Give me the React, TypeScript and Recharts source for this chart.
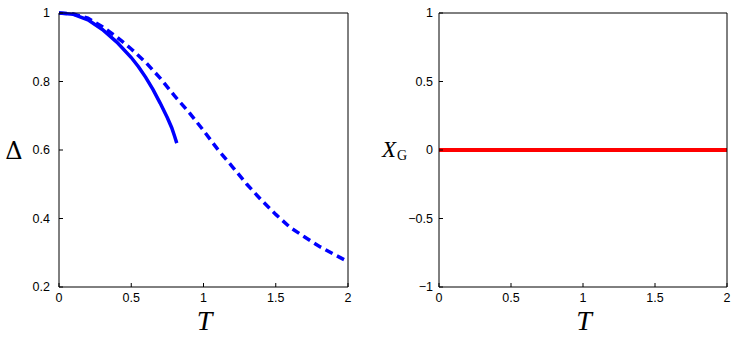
import { LineChart, Line, XAxis, YAxis } from "recharts"

// gap curves
const solidT = [0, 0.1, 0.2, 0.3, 0.4, 0.5, 0.55, 0.6, 0.65, 0.7, 0.75, 0.78, 0.8, 0.815]
const solidGap = [1, 0.996, 0.98, 0.952, 0.915, 0.87, 0.843, 0.812, 0.777, 0.737, 0.694, 0.665, 0.64, 0.62]

const dashedT = [0, 0.1, 0.2, 0.3, 0.4, 0.5, 0.6, 0.7, 0.8, 0.9, 1, 1.1, 1.2, 1.3, 1.4, 1.5, 1.6, 1.7, 1.8, 1.9, 2]
const dashedGap = [
  1, 0.997, 0.985, 0.96, 0.93, 0.895, 0.856, 0.81, 0.758, 0.71, 0.657, 0.601, 0.551, 0.5, 0.454, 0.412, 0.374,
  0.346, 0.319, 0.296, 0.274,
]

// right panel: X_G stays at zero
const xgT = [0, 0.5, 1, 1.5, 2]
const xgValues = [0, 0, 0, 0, 0]

const tTicks = [0, 0.5, 1, 1.5, 2]
const gapTicks = [0.2, 0.4, 0.6, 0.8, 1]
const xgTicks = [-1, -0.5, 0, 0.5, 1]

const solidData = solidT.map((T, i) => ({ T, v: solidGap[i] }))
const dashedData = dashedT.map((T, i) => ({ T, v: dashedGap[i] }))
const xgData = xgT.map((T, i) => ({ T, v: xgValues[i] }))

const tickStyle = { fill: "#000", fontSize: 12.5, fontFamily: "Liberation Sans, Arial, sans-serif" }
const fmt = (v: number) => String(v).replace("-", "\u2212")

const TLabel = (props: any) => {
  const vb = props.viewBox
  return (
    <text
      x={vb.x + vb.width / 2 + 1}
      y={vb.y + 43}
      textAnchor="middle"
      fontSize={28}
      fontStyle="italic"
      fontFamily="Liberation Serif, serif"
      fill="#000"
    >
      T
    </text>
  )
}

const DeltaLabel = (props: any) => {
  const vb = props.viewBox
  return (
    <text x={14} y={vb.y + vb.height / 2 + 9} textAnchor="middle" fontSize={24} fontFamily="DejaVu Serif, serif" fill="#000">
      Δ
    </text>
  )
}

const XgLabel = (props: any) => {
  const vb = props.viewBox
  return (
    <text x={12} y={vb.y + vb.height / 2 + 7} fontSize={23} fontFamily="Liberation Serif, serif" fill="#000">
      <tspan fontStyle="italic">X</tspan>
      <tspan fontSize={14} dx={1} dy={3}>
        G
      </tspan>
    </text>
  )
}

export default function App() {
  return (
    <div style={{ position: "absolute", left: 0, top: 0, width: 736, height: 338, background: "#fff" }}>
      <div style={{ position: "absolute", left: 0, top: 0 }}>
        <LineChart width={368} height={338} margin={{ top: 12, right: 19, bottom: 0, left: 0 }}>
          <XAxis
            dataKey="T"
            type="number"
            domain={[0, 2]}
            ticks={tTicks}
            height={51}
            stroke="#000"
            tickSize={-4}
            tickMargin={10}
            tick={tickStyle}
            label={TLabel}
          />
          <XAxis
            xAxisId="top"
            orientation="top"
            dataKey="T"
            type="number"
            domain={[0, 2]}
            ticks={tTicks}
            height={1}
            stroke="#000"
            tickSize={-4}
            tick={false}
          />
          <YAxis
            type="number"
            domain={[0.2, 1]}
            ticks={gapTicks}
            width={59}
            stroke="#000"
            tickSize={-4}
            tickMargin={13}
            tick={tickStyle}
            tickFormatter={fmt}
            label={DeltaLabel}
          />
          <YAxis
            yAxisId="right"
            orientation="right"
            type="number"
            domain={[0.2, 1]}
            ticks={gapTicks}
            width={1}
            stroke="#000"
            tickSize={-4}
            tick={false}
          />
          <Line
            data={dashedData}
            dataKey="v"
            stroke="#0000ff"
            strokeWidth={3.5}
            strokeDasharray="8 5"
            dot={false}
            isAnimationActive={false}
          />
          <Line data={solidData} dataKey="v" stroke="#0000ff" strokeWidth={3.5} dot={false} isAnimationActive={false} />
        </LineChart>
      </div>
      <div style={{ position: "absolute", left: 370, top: 0 }}>
        <LineChart width={366} height={338} margin={{ top: 12, right: 8, bottom: 0, left: 0 }}>
          <XAxis
            dataKey="T"
            type="number"
            domain={[0, 2]}
            ticks={tTicks}
            height={51}
            stroke="#000"
            tickSize={-4}
            tickMargin={10}
            tick={tickStyle}
            label={TLabel}
          />
          <XAxis
            xAxisId="top"
            orientation="top"
            dataKey="T"
            type="number"
            domain={[0, 2]}
            ticks={tTicks}
            height={1}
            stroke="#000"
            tickSize={-4}
            tick={false}
          />
          <YAxis
            type="number"
            domain={[-1, 1]}
            ticks={xgTicks}
            width={69}
            stroke="#000"
            tickSize={-4}
            tickMargin={10}
            tick={tickStyle}
            tickFormatter={fmt}
            label={XgLabel}
          />
          <YAxis
            yAxisId="right"
            orientation="right"
            type="number"
            domain={[-1, 1]}
            ticks={xgTicks}
            width={1}
            stroke="#000"
            tickSize={-4}
            tick={false}
          />
          <Line data={xgData} dataKey="v" stroke="#ff0000" strokeWidth={4} dot={false} isAnimationActive={false} />
        </LineChart>
      </div>
    </div>
  )
}
